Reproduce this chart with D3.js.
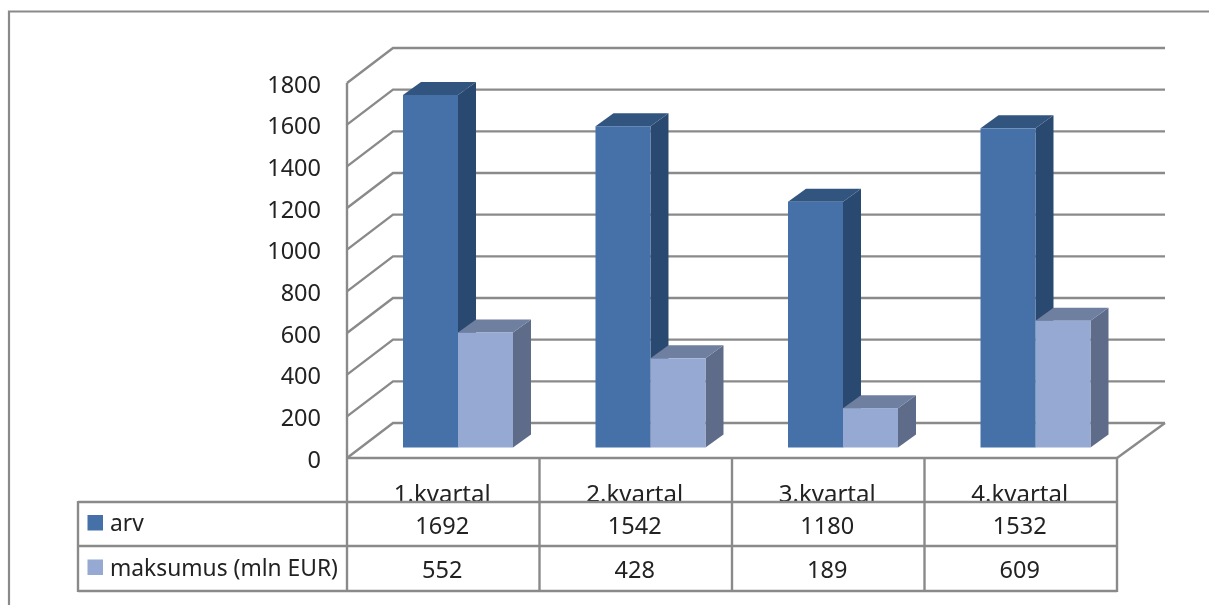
<!DOCTYPE html>
<html><head><meta charset="utf-8">
<script src="https://d3js.org/d3.v7.min.js"></script>
<style>html,body{margin:0;padding:0;background:#fff;overflow:hidden}svg{display:block}text{font-family:"Noto Sans",sans-serif;fill:#222}</style>
</head><body><svg id="c" width="1209" height="605"></svg>
<script>
const categories=["1.kvartal","2.kvartal","3.kvartal","4.kvartal"];
const arv=[1692,1542,1180,1532];
const maksumus=[552,428,189,609];
const seriesNames=["arv","maksumus (mln EUR)"];
const yTicks=[0,200,400,600,800,1000,1200,1400,1600,1800];

const L=347,R=1117,B=458,T=83,DX=46,DY=35,GREY="#8a8a8a";
const svg=d3.select("#c");
const defs=svg.append("defs");
const f=defs.append("filter").attr("id","soft").attr("x","-2%").attr("y","-2%").attr("width","104%").attr("height","104%");
f.append("feGaussianBlur").attr("stdDeviation",0.7);
const g=svg.append("g").attr("filter","url(#soft)");
const line=(x1,y1,x2,y2,w=2.4)=>g.append("line").attr("x1",x1).attr("y1",y1).attr("x2",x2).attr("y2",y2).attr("stroke",GREY).attr("stroke-width",w);

// outer frame
g.append("path").attr("d","M9,606V11.5H1212").attr("fill","none").attr("stroke",GREY).attr("stroke-width",2.2);

const y=d3.scaleLinear().domain([0,1800]).range([B,T]);
const x=d3.scaleBand().domain(categories).range([L,R]);

// gridlines on side and back walls
g.append("g").selectAll("path").data(yTicks).join("path")
 .attr("d",d=>`M${L},${y(d)}L${L+DX},${y(d)-DY}H${R+48}`)
 .attr("fill","none").attr("stroke",GREY).attr("stroke-width",2.4);
// floor front-right edge
line(R,B,R+48,B-DY);
line(L,T,L,B);

// y labels
const axis=d3.axisLeft(y).tickValues(yTicks).tickSize(0).tickPadding(0).tickFormat(d3.format("d"));
const ax=g.append("g").attr("transform",`translate(${L-26},1.5)`).call(axis);
ax.select(".domain").remove();
ax.selectAll("text").attr("font-size",23.5).attr("font-family",'"Noto Sans",sans-serif').attr("fill","#222");

// bars
const BX=14,BY=10.5,W=55,DepX=18,DepY=13;
const series=[
 {vals:arv,front:"#4470A8",side:"#2C4A6F",top:"#33557F"},
 {vals:maksumus,front:"#95A9D2",side:"#5E6C89",top:"#6E7F9F"}
];
categories.forEach((c,i)=>{
 series.forEach((s,j)=>{
  const x0=x(c)+BX+42+j*W, x1=x0+W;
  const yb=B-BY, yt=y(s.vals[i])-BY;
  const bar=g.append("g");
  bar.append("path").attr("d",`M${x1},${yt}L${x1+DepX},${yt-DepY}V${yb-DepY}L${x1},${yb}Z`).attr("fill",s.side);
  bar.append("path").attr("d",`M${x0},${yt}L${x0+DepX},${yt-DepY}H${x1+DepX}L${x1},${yt}Z`).attr("fill",s.top);
  bar.append("rect").attr("x",x0).attr("y",yt).attr("width",W).attr("height",yb-yt).attr("fill",s.front);
 });
});

// data table
const rowY=[B,502,546,591];
const tableLeft=78;
x.domain().forEach(c=>{
 g.append("text").attr("x",x(c)+x.bandwidth()/2-1).attr("y",502).attr("text-anchor","middle").attr("font-size",24).text(c);
});
// white strip trimming the bottoms of category labels
g.append("rect").attr("x",L+2).attr("y",502).attr("width",R-L-4).attr("height",10).attr("fill","#fff");
line(L,B,R,B);
line(tableLeft,rowY[1],R,rowY[1]);
line(tableLeft,rowY[2],R,rowY[2]);
line(tableLeft,rowY[3],R,rowY[3]);
line(tableLeft,rowY[1]-1,tableLeft,rowY[3]+1);
[...categories.map(c=>x(c)),R].forEach(v=>line(v,B,v,rowY[3]+1));

[arv,maksumus].forEach((vals,r)=>{
 const ry=(rowY[r+1]+rowY[r+2])/2;
 g.append("rect").attr("x",87.5).attr("y",ry-9).attr("width",15.5).attr("height",15.5).attr("fill",series[r].front);
 g.append("text").attr("x",110).attr("y",ry+7).attr("font-size",22.8).text(seriesNames[r]);
 categories.forEach((c,i)=>{
  g.append("text").attr("x",x(c)+x.bandwidth()/2-1).attr("y",ry+10-r).attr("text-anchor","middle").attr("font-size",23.5).text(vals[i]);
 });
});
</script></body></html>
